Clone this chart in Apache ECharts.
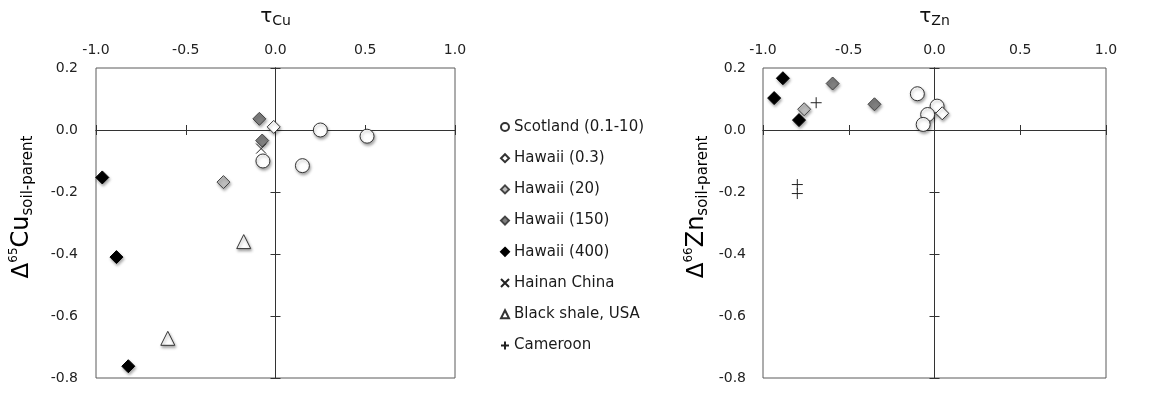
<!DOCTYPE html>
<html>
<head>
<meta charset="utf-8">
<script src="https://cdn.jsdelivr.net/npm/echarts@6/dist/echarts.min.js"></script>
<style>html,body{margin:0;padding:0;background:#fff}#c{width:1162px;height:394px}</style>
</head>
<body>
<div id="c"></div>
<script>
// ---- data ----
var seriesNames = ['Scotland (0.1-10)', 'Hawaii (0.3)', 'Hawaii (20)', 'Hawaii (150)', 'Hawaii (400)', 'Hainan China', 'Black shale, USA', 'Cameroon'];
var xTicks = [-1.0, -0.5, 0.0, 0.5, 1.0];
var yTicks = [0.2, 0.0, -0.2, -0.4, -0.6, -0.8];

// Copper: [tau_Cu, Delta65Cu]
var scotlandCu = [[0.25, 0.0], [0.51, -0.02], [0.15, -0.115], [-0.07, -0.10]];
var hawaii03Cu = [[-0.01, 0.01]];
var hawaii20Cu = [[-0.29, -0.168]];
var hawaii150Cu = [[-0.09, 0.036], [-0.074, -0.034]];
var hawaii400Cu = [[-0.965, -0.153], [-0.886, -0.41], [-0.82, -0.762]];
var hainanCu = [[-0.08, -0.06]];
var shaleCu = [[-0.177, -0.36], [-0.60, -0.672]];

// Zinc: [tau_Zn, Delta66Zn]
var scotlandZn = [[-0.10, 0.117], [0.015, 0.077], [-0.04, 0.05], [-0.066, 0.018]];
var hawaii03Zn = [[0.045, 0.054]];
var hawaii20Zn = [[-0.76, 0.067]];
var hawaii150Zn = [[-0.594, 0.150], [-0.35, 0.083]];
var hawaii400Zn = [[-0.935, 0.103], [-0.884, 0.167], [-0.79, 0.032]];
var cameroonZn = [[-0.69, 0.088], [-0.80, -0.176], [-0.80, -0.205]];

// ---- styles ----
var FONT = 'DejaVu Sans';
var shadow = {shadowBlur: 3, shadowColor: 'rgba(0,0,0,0.35)', shadowOffsetX: 1, shadowOffsetY: 2};
function st(o) { var r = {opacity: 1}; for (var k in shadow) r[k] = shadow[k]; for (var k2 in o) r[k2] = o[k2]; return r; }
var styles = {
  'Scotland (0.1-10)': {symbol: 'circle', symbolSize: 14, itemStyle: st({color: '#fff', borderColor: '#333', borderWidth: 1})},
  'Hawaii (0.3)': {symbol: 'diamond', symbolSize: 13, itemStyle: st({color: '#fff', borderColor: '#333', borderWidth: 1})},
  'Hawaii (20)': {symbol: 'diamond', symbolSize: 13, itemStyle: st({color: '#bdbdbd', borderColor: '#444', borderWidth: 1})},
  'Hawaii (150)': {symbol: 'diamond', symbolSize: 13, itemStyle: st({color: '#7f7f7f', borderColor: '#444', borderWidth: 1})},
  'Hawaii (400)': {symbol: 'diamond', symbolSize: 13, itemStyle: st({color: '#000', borderColor: '#000', borderWidth: 1})},
  'Hainan China': {symbol: 'path://M0,0L10,10M10,0L0,10', symbolSize: 10, itemStyle: {opacity: 1, color: 'rgba(0,0,0,0)', borderColor: '#222', borderWidth: 1}},
  'Black shale, USA': {symbol: 'triangle', symbolSize: 14, itemStyle: st({color: '#fff', borderColor: '#333', borderWidth: 1})},
  'Cameroon': {symbol: 'path://M5,0L5,10M0,5L10,5', symbolSize: 11, itemStyle: {opacity: 1, color: 'rgba(0,0,0,0)', borderColor: '#222', borderWidth: 1}}
};

function fmt(v) { if (Math.abs(v) < 1e-9) return '0.0'; return v.toFixed(1); }
var labelStyle = {fontFamily: FONT, fontSize: 14, color: '#222'};
var lineColor = '#333';

function makeAxes(g, xName) {
  var xs = [], ys = [];
  var xIdx = g * 3, yIdx = g * 3;
  xs.push({gridIndex: g, type: 'value', min: xTicks[0], max: xTicks[xTicks.length - 1], interval: 0.5, position: 'top',
    axisLine: {show: false}, axisTick: {show: false}, splitLine: {show: false},
    axisLabel: Object.assign({margin: 11, formatter: fmt}, labelStyle),
    name: '{t|τ}{s|' + xName + '}', nameLocation: 'middle', nameGap: 40,
    nameTextStyle: {rich: {t: {fontFamily: FONT, fontSize: 20, color: '#111', lineHeight: 22, verticalAlign: 'middle'},
                           s: {fontFamily: FONT, fontSize: 14, color: '#111', lineHeight: 14, verticalAlign: 'bottom'}}}});
  [false, true].forEach(function (inside) {
    xs.push({gridIndex: g, type: 'value', min: -1, max: 1, interval: 0.5, position: 'bottom',
      axisLine: {show: true, onZero: true, onZeroAxisIndex: yIdx, lineStyle: {color: lineColor, width: 1}},
      axisTick: {show: true, inside: inside, length: 5, lineStyle: {color: lineColor, width: 1}},
      axisLabel: {show: false}, splitLine: {show: false}});
  });
  ys.push({gridIndex: g, type: 'value', min: yTicks[yTicks.length - 1], max: yTicks[0], interval: 0.2, position: 'left',
    axisLine: {show: false}, axisTick: {show: false}, splitLine: {show: false},
    axisLabel: Object.assign({margin: g === 0 ? 18 : 17, formatter: fmt}, labelStyle)});
  [false, true].forEach(function (inside) {
    ys.push({gridIndex: g, type: 'value', min: -0.8, max: 0.2, interval: 0.2, position: 'left',
      axisLine: {show: true, onZero: true, onZeroAxisIndex: xIdx, lineStyle: {color: lineColor, width: 1}},
      axisTick: {show: true, inside: inside, length: 5, lineStyle: {color: lineColor, width: 1}},
      axisLabel: {show: false}, splitLine: {show: false}});
  });
  return {x: xs, y: ys};
}

var axL = makeAxes(0, 'Cu');
var axR = makeAxes(1, 'Zn');

var series = [];
function addSeries(name, data, g) {
  var s = styles[name];
  series.push({type: 'scatter', name: name, xAxisIndex: g * 3, yAxisIndex: g * 3, data: data,
    symbol: s.symbol, symbolSize: s.symbolSize, itemStyle: s.itemStyle, emphasis: {disabled: true}, z: 3});
}
addSeries('Scotland (0.1-10)', scotlandCu, 0);
addSeries('Hawaii (0.3)', hawaii03Cu, 0);
addSeries('Hawaii (20)', hawaii20Cu, 0);
addSeries('Hawaii (150)', hawaii150Cu, 0);
addSeries('Hawaii (400)', hawaii400Cu, 0);
addSeries('Hainan China', hainanCu, 0);
addSeries('Black shale, USA', shaleCu, 0);
addSeries('Scotland (0.1-10)', scotlandZn, 1);
addSeries('Hawaii (0.3)', hawaii03Zn, 1);
addSeries('Hawaii (20)', hawaii20Zn, 1);
addSeries('Hawaii (150)', hawaii150Zn, 1);
addSeries('Hawaii (400)', hawaii400Zn, 1);
addSeries('Cameroon', cameroonZn, 1);

function yTitle(el) {
  return '{d|Δ}{p|' + (el === 'Cu' ? '65' : '66') + '}{b|' + el + '}{s|soil-parent}';
}
var yRich = {
  d: {fontFamily: FONT, fontSize: 23, color: '#111', lineHeight: 28, verticalAlign: 'middle'},
  p: {fontFamily: FONT, fontSize: 12, color: '#111', lineHeight: 12, verticalAlign: 'top'},
  b: {fontFamily: FONT, fontSize: 24, color: '#111', lineHeight: 28, verticalAlign: 'middle'},
  s: {fontFamily: FONT, fontSize: 15, color: '#111', lineHeight: 15, verticalAlign: 'bottom'}
};

var chart = echarts.init(document.getElementById('c'), null, {renderer: 'canvas'});
chart.setOption({
  animation: false,
  backgroundColor: '#fff',
  grid: [
    {left: 96, top: 68, width: 359, height: 310, show: true, borderColor: '#5a5a5a', borderWidth: 1, backgroundColor: 'rgba(0,0,0,0)'},
    {left: 763, top: 68, width: 343, height: 310, show: true, borderColor: '#5a5a5a', borderWidth: 1, backgroundColor: 'rgba(0,0,0,0)'}
  ],
  xAxis: axL.x.concat(axR.x),
  yAxis: axL.y.concat(axR.y),
  legend: {
    orient: 'vertical', left: 495, top: 114, itemWidth: 8, itemHeight: 8, itemGap: 15.2,
    selectedMode: false, data: seriesNames,
    textStyle: {fontFamily: FONT, fontSize: 15, color: '#1a1a1a', lineHeight: 16},
    itemStyle: {opacity: 1, shadowBlur: 0, shadowOffsetX: 0, shadowOffsetY: 0}
  },
  graphic: [
    {type: 'text', x: 22, y: 207, rotation: Math.PI / 2, style: {text: yTitle('Cu'), rich: yRich, align: 'center', verticalAlign: 'middle'}},
    {type: 'text', x: 697, y: 207, rotation: Math.PI / 2, style: {text: yTitle('Zn'), rich: yRich, align: 'center', verticalAlign: 'middle'}}
  ],
  series: series
});
</script>
</body>
</html>
